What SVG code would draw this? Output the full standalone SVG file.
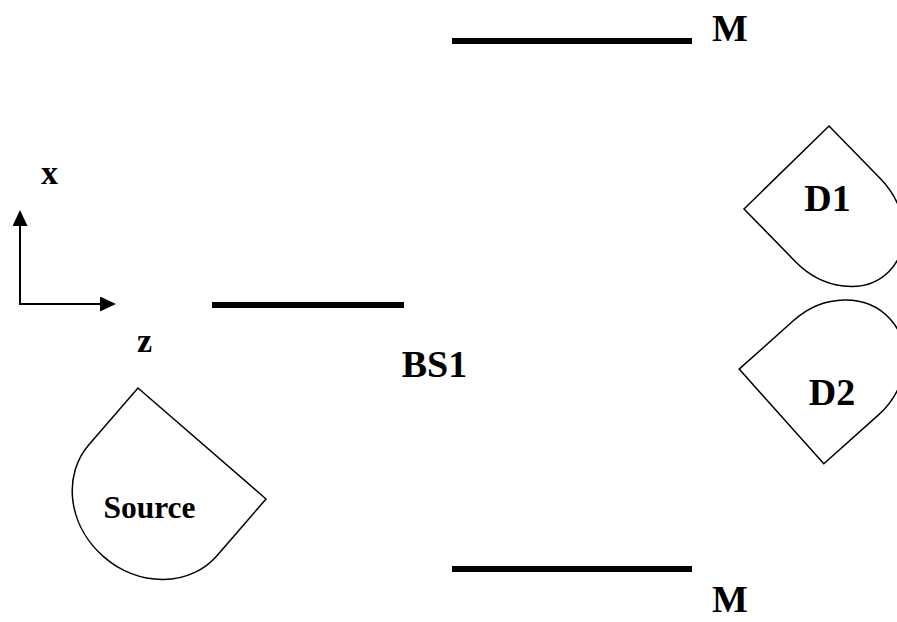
<svg xmlns="http://www.w3.org/2000/svg" width="897" height="622" viewBox="0 0 897 622">
  <style>
    .lbl { font-family: "Liberation Serif", "Times New Roman", serif; font-weight: bold; fill: #000; }
    .shape { fill: #fff; stroke: #000; stroke-width: 1.5; }
    .mirror { stroke: #000; stroke-width: 6; }
    .axis { stroke: #000; stroke-width: 2; fill: none; }
  </style>
  <defs>
    <marker id="arrow" markerUnits="userSpaceOnUse" markerWidth="16" markerHeight="15" refX="12" refY="7.5" orient="auto">
      <path d="M0,0 L16,7.5 L0,15 Z" fill="#000"/>
    </marker>
  </defs>
  <rect width="897" height="622" fill="#fff"/>

  <g id="connectors">
    <line class="axis" x1="20" y1="305" x2="20" y2="214" marker-end="url(#arrow)"/>
    <line class="axis" x1="19" y1="304" x2="112" y2="304" marker-end="url(#arrow)"/>
  </g>

  <g id="axis-labels">
    <text class="lbl" x="49.5" y="184" font-size="34" text-anchor="middle">x</text>
    <text class="lbl" x="144.5" y="352" font-size="34" text-anchor="middle">z</text>
  </g>

  <g id="mirror-top">
    <line class="mirror" x1="452" y1="41" x2="692" y2="41"/>
    <text class="lbl" x="712" y="41" font-size="38">M</text>
  </g>

  <g id="mirror-bottom">
    <line class="mirror" x1="452" y1="569" x2="692" y2="569"/>
    <text class="lbl" x="712" y="612" font-size="38">M</text>
  </g>

  <g id="bs1">
    <line class="mirror" x1="212" y1="305" x2="404" y2="305"/>
    <text class="lbl" x="434.5" y="377" font-size="38" text-anchor="middle">BS1</text>
  </g>

  <g id="source">
    <path class="shape" transform="translate(152.9,500.2) rotate(130.9)" d="M-75,-84.7 L0,-84.7 A75,84.7 0 0 1 0,84.7 L-75,84.7 Z"/>
    <text class="lbl" x="149.5" y="518" font-size="31.5" text-anchor="middle">Source</text>
  </g>

  <g id="d1">
    <path class="shape" transform="translate(837.5,219.7) rotate(45.7)" d="M-73,-59.4 L0,-59.4 A73,59.4 0 0 1 0,59.4 L-73,59.4 Z"/>
    <text class="lbl" x="827.5" y="211" font-size="38" text-anchor="middle">D1</text>
  </g>

  <g id="d2">
    <path class="shape" transform="translate(835.9,367.8) rotate(-41.8)" d="M-73,-63.5 L0,-63.5 A73,63.5 0 0 1 0,63.5 L-73,63.5 Z"/>
    <text class="lbl" x="832" y="405" font-size="38" text-anchor="middle">D2</text>
  </g>
</svg>
